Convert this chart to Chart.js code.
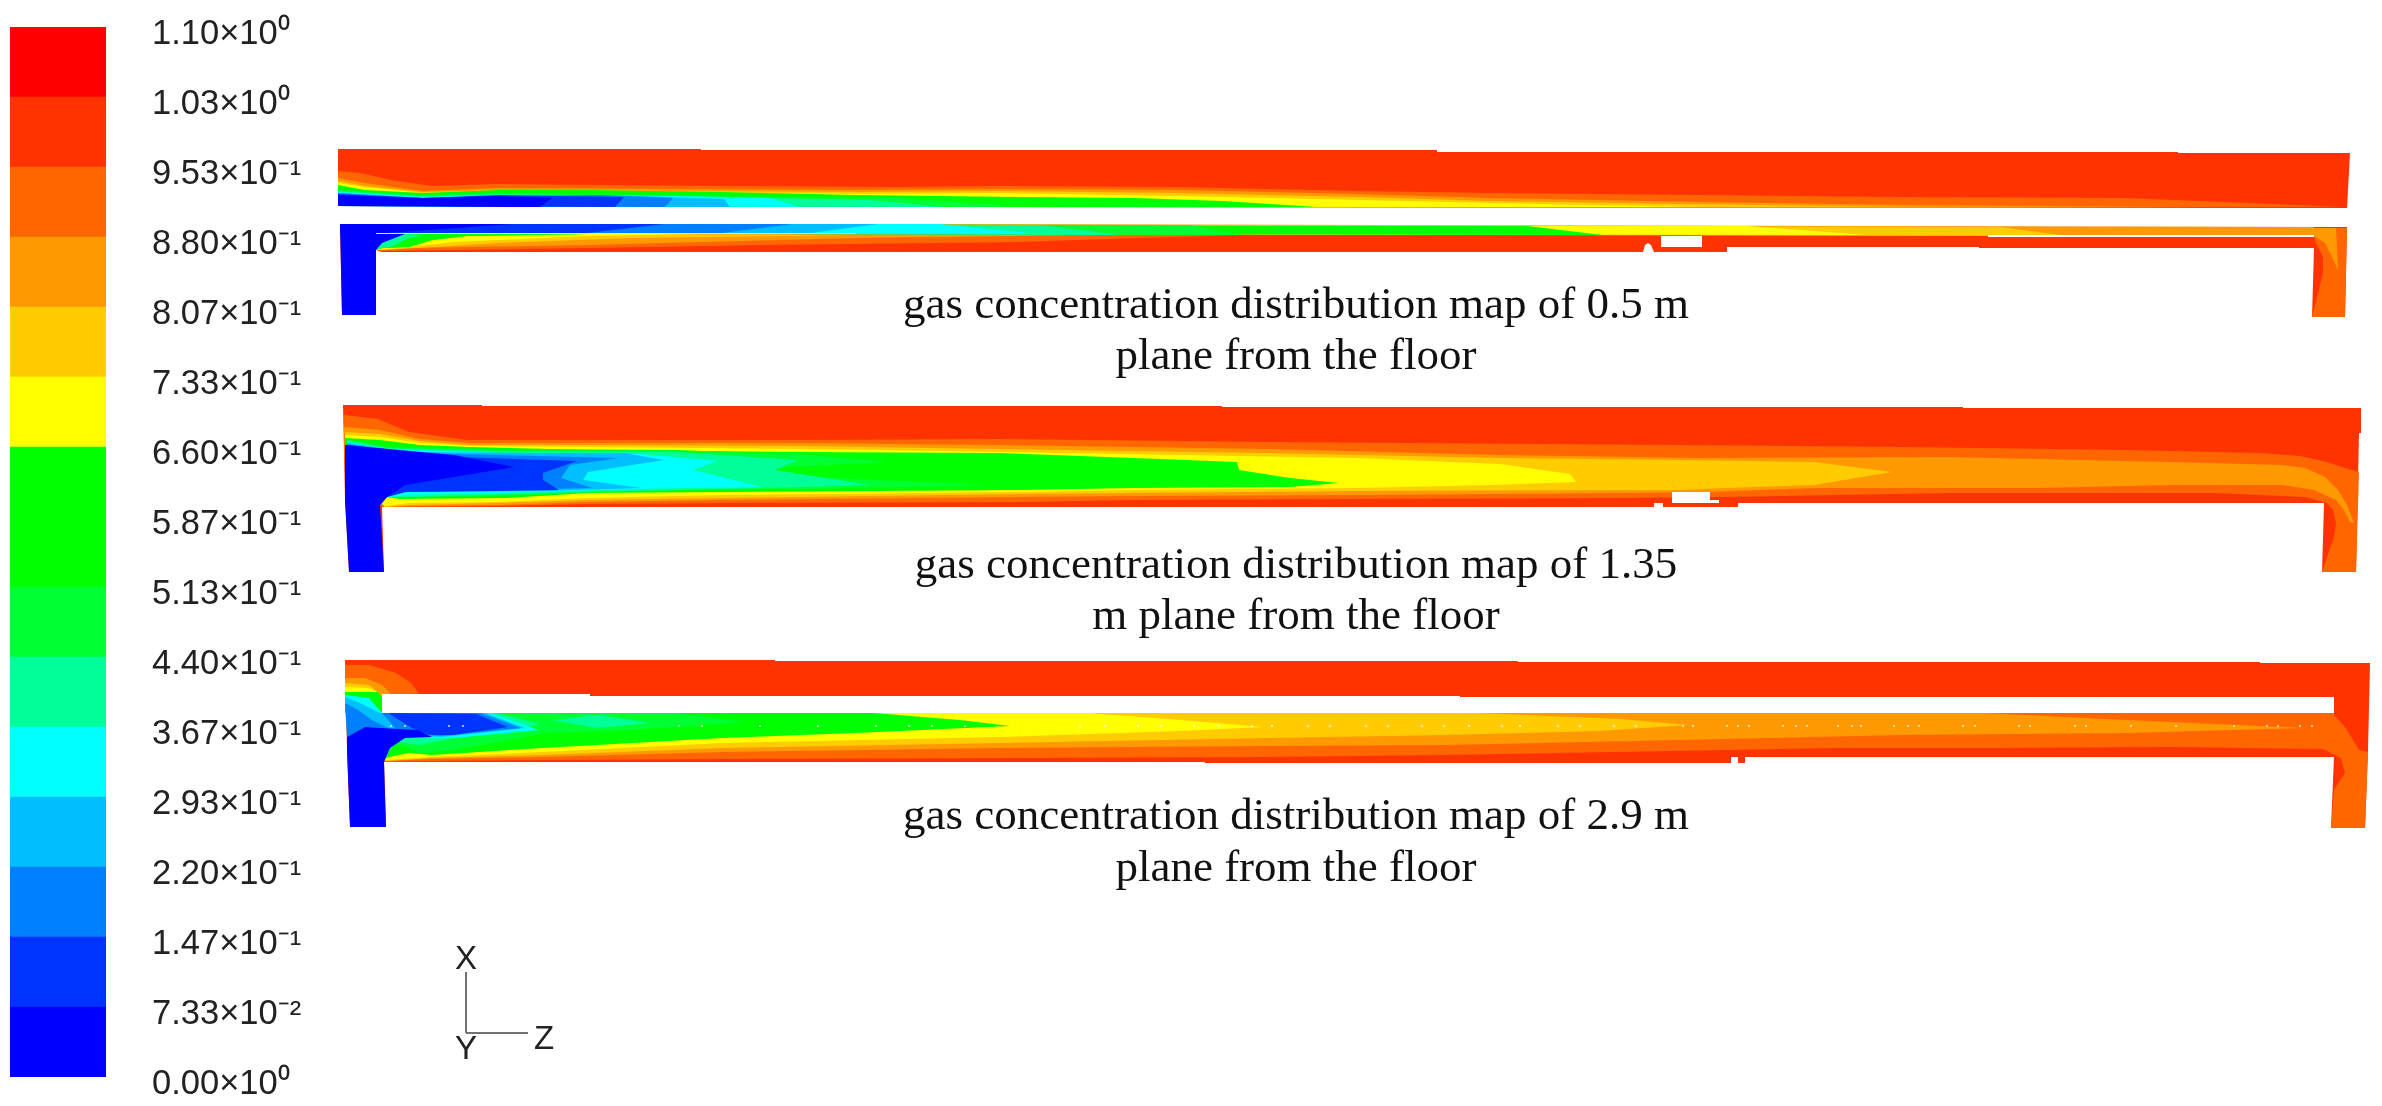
<!DOCTYPE html>
<html><head><meta charset="utf-8">
<style>
html,body{margin:0;padding:0;background:#fff;width:2382px;height:1106px;overflow:hidden}
canvas{position:absolute;left:0;top:0;filter:blur(0.55px)}
</style>
<script src="https://cdn.jsdelivr.net/npm/chart.js@4/dist/chart.umd.min.js"></script>
</head><body>
<canvas id="map" width="2382" height="1106"></canvas>
<canvas id="bar" width="340" height="1106"></canvas>
<script>
// ---------- legend ----------
const levelValues = [0,0.07333,0.14667,0.22,0.29333,0.36667,0.44,0.51333,0.58667,0.66,0.73333,0.80667,0.88,0.95333,1.02667,1.10];
const levelLabels = ['0.00×10⁰','7.33×10⁻²','1.47×10⁻¹','2.20×10⁻¹','2.93×10⁻¹','3.67×10⁻¹','4.40×10⁻¹','5.13×10⁻¹','5.87×10⁻¹','6.60×10⁻¹','7.33×10⁻¹','8.07×10⁻¹','8.80×10⁻¹','9.53×10⁻¹','1.03×10⁰','1.10×10⁰'];
const bandColors = ['#0000ff','#0033ff','#0080ff','#00bfff','#00ffff','#00ff99','#00ff33','#00ff00','#00ff00','#ffff00','#ffcc00','#ff9900','#ff6600','#ff3300','#ff0000'];
const [BLUE,B2,B3,B4,CYAN,SPR,G1,GREEN,,YEL,GOLD,AMB,ORG,RED] = bandColors;
const WHITE = '#ffffff';

// ---------- plane 0.5 m, upper strip ----------
const a1Outline=[[338,149],[701,149],[701,150],[1437,150],[1437,152],[2178,152],[2178,153],[2350,153],[2347,208],[1903,208],[1903,207],[945,207],[945,206],[338,206]];
const a1Orange=[[338,171],[360,173],[391,180],[432,186],[499,184],[588,185],[722,186],[900,187],[1000,186],[1178,187],[1357,191],[1491,193],[1700,195],[1903,197],[2126,198],[2345,207],[1903,208],[945,207],[338,206]];
const a1Amber=[[338,178],[365,183],[423,191],[499,188],[677,189],[856,190],[1000,189],[1178,190],[1357,194],[1491,198],[1700,202],[1903,205],[2200,207],[1903,208],[945,207],[338,206]];
const a1Gold=[[338,181],[365,186],[423,192],[499,190],[677,191],[856,192],[1000,191],[1178,193],[1357,197],[1491,201],[1680,204],[1903,207],[945,207],[338,206]];
const a1Yellow=[[338,183],[365,187],[423,193],[499,191],[677,192],[856,194],[1000,193],[1178,196],[1317,199],[1491,203],[1700,207],[945,207],[338,206]];
const a1Green=[[338,185],[365,190],[423,193],[499,190],[588,190],[722,192],[856,195],[1020,197],[1134,198],[1223,201],[1317,207],[945,207],[338,206]];
const a1G1=[[338,190],[423,195],[499,193],[722,196],[900,198],[1000,205],[1005,207],[338,206]];
const a1Spring=[[338,191],[423,196],[499,194],[722,197],[870,200],[945,207],[338,206]];
const a1Cyan=[[338,192],[423,197],[499,195],[677,196],[770,198],[800,207],[338,206]];
const a1B4=[[338,193],[423,198],[499,196],[640,196],[724,199],[730,207],[338,206]];
const a1B3=[[338,193],[423,198],[499,196],[600,195],[673,198],[665,207],[338,206]];
const a1B2=[[338,194],[423,198],[499,195],[624,197],[615,207],[338,206]];
const a1Blue=[[338,195],[423,198],[499,196],[552,198],[540,207],[338,206]];

// ---------- plane 0.5 m, lower strip ----------
const a2Outline=[[340,224],[940,224],[940,225],[1000,226],[2347,227],[2345,317],[2312,317],[2314,248],[1979,248],[1979,247],[1727,247],[1727,252],[1654,252],[1651,245],[1648,243],[1645,245],[1643,252],[382,252],[376,250],[376,315],[342,315]];
const a2TopAmber=[[340,224],[940,224],[2314,227],[2314,236],[340,233]];
const a2TopGold=[[340,224],[2001,227],[2068,236],[340,233]];
const a2TopYellow=[[340,224],[1747,226],[1867,235],[340,233]];
const a2TopGreen=[[340,224],[1527,226],[1603,235],[340,233]];
const a2TopG1=[[340,224],[1192,225],[1241,235],[340,233]];
const a2TopSpring=[[340,224],[1040,225],[1120,235],[340,233]];
const a2TopCyan=[[340,224],[940,224],[1040,234],[340,233]];
const a2TopB4=[[340,224],[878,224],[811,233],[340,233]];
const a2TopB3=[[340,224],[793,224],[722,233],[340,233]];
const a2TopB2=[[340,224],[664,224],[588,233],[340,233]];
const a2Orange=[[376,233],[1245,235],[1134,238],[1020,242],[766,245],[588,248],[382,251],[376,250]];
const a2Amber=[[376,233],[1090,235],[1020,236],[856,238],[588,245],[409,248],[385,250],[376,250]];
const a2Gold=[[376,233],[856,235],[632,238],[499,243],[400,249],[376,250]];
const a2Yellow=[[376,233],[700,234],[588,236],[454,242],[400,248],[376,250]];
const a2Green=[[376,233],[588,234],[467,236],[432,240],[409,247],[382,248],[376,250]];
const a2Spring=[[376,233],[427,235],[409,238],[391,247],[374,249]];
const a2Blue=[[340,224],[512,224],[387,233],[405,234],[382,243],[376,250],[376,315],[342,315]];
const a2LegOrange=[[2314,228],[2347,228],[2345,317],[2312,317],[2323,273],[2323,257],[2316,243],[2314,237]];
const a2LegAmber=[[2314,228],[2336,228],[2338,270],[2331,255],[2325,243],[2314,236]];
const a2Seam=[[376,233],[856,233],[856,234],[376,234]];
const a2GapLine=[[1988,235],[2314,235],[2314,237],[1988,237]];
const a2Hole=[[1661,236],[1702,236],[1702,247],[1661,247]];

// ---------- plane 1.35 m ----------
const bOutline=[[343,405],[482,405],[482,406],[1222,406],[1222,407],[1963,407],[1963,408],[2361,408],[2361,433],[2359,433],[2356,572],[2322,572],[2324,503],[1738,503],[1738,507],[1663,507],[1663,503],[1654,503],[1654,507],[382,507],[384,572],[349,572],[345,500]];
const bOrange=[[344,415],[378,419],[409,432],[467,440],[800,440],[1000,439],[1268,442],[1680,445],[1903,447],[2126,450],[2260,453],[2300,456],[2327,462],[2345,468],[2359,472],[2356,572],[2322,572],[2334,537],[2336,523],[2333,510],[2327,503],[2305,497],[2216,493],[1948,493],[1725,497],[1625,498],[1357,499],[1134,500],[1020,502],[722,503],[588,504],[499,506],[409,507],[382,507],[345,470]];
const bAmber=[[344,427],[380,430],[420,439],[470,443],[800,443],[1000,445],[1268,449],[1500,455],[1700,458],[1948,457],[2171,462],[2283,465],[2305,468],[2325,477],[2338,490],[2347,505],[2354,523],[2350,522],[2344,510],[2336,500],[2314,490],[2283,485],[2171,485],[2037,488],[1814,488],[1707,492],[1625,493],[1357,495],[1134,496],[1020,497],[722,500],[588,502],[499,505],[409,506],[385,507],[345,470]];
const bGold=[[345,432],[380,434],[420,441],[470,445],[588,445],[800,446],[1000,449],[1268,453],[1500,458],[1680,460],[1814,462],[1892,472],[1814,485],[1725,488],[1680,490],[1625,490],[1357,491],[1134,493],[1020,494],[722,498],[588,500],[499,503],[409,505],[385,507],[345,470]];
const bYellow=[[345,435],[380,437],[420,443],[470,446],[588,447],[800,449],[1000,452],[1357,458],[1500,464],[1570,474],[1576,482],[1491,485],[1357,488],[1134,490],[1020,492],[722,495],[588,498],[499,502],[409,503],[385,506],[345,470]];
const bGreen=[[345,438],[380,440],[420,445],[470,447],[588,450],[800,452],[1000,453],[1134,458],[1237,462],[1239,470],[1290,478],[1339,483],[1290,487],[1134,488],[1020,490],[722,492],[588,493],[507,498],[400,499],[387,497],[380,505],[345,470]];
const bG1=[[347,439],[387,447],[499,449],[677,450],[811,455],[887,462],[784,467],[775,470],[807,477],[990,485],[811,489],[632,491],[521,495],[409,498],[385,497],[380,505],[350,510]];
const bSpring=[[347,440],[387,448],[499,451],[677,452],[798,460],[775,470],[871,485],[766,488],[632,491],[521,494],[409,497],[387,497],[380,505],[350,510]];
const bCyan=[[347,442],[387,449],[499,453],[641,454],[717,461],[693,470],[762,487],[632,489],[499,493],[409,495],[387,497],[380,505],[350,510]];
const bB4=[[347,443],[409,452],[543,453],[624,453],[664,460],[588,472],[583,480],[641,488],[543,491],[409,492],[387,496],[380,505],[350,510]];
const bB3=[[347,444],[409,453],[499,455],[619,458],[570,465],[561,478],[592,488],[499,490],[405,492],[387,497],[380,505],[350,510]];
const bB2=[[347,445],[454,457],[577,461],[543,473],[543,480],[559,490],[499,491],[405,492],[387,497],[380,505],[350,510]];
const bBlue=[[345,445],[454,455],[514,467],[454,477],[405,485],[387,497],[380,505],[384,572],[349,572],[345,500]];
const bHole=[[1672,492],[1710,492],[1710,500],[1719,500],[1719,503],[1672,503]];

// ---------- plane 2.9 m ----------
const cOutline=[[345,660],[775,660],[775,661],[1518,661],[1518,662],[2260,662],[2260,663],[2370,663],[2368,750],[2365,828],[2331,828],[2334,757],[1745,757],[1745,763],[1738,763],[1738,757],[1731,757],[1731,763],[1205,763],[1205,762],[384,762],[386,827],[350,827],[347,750]];
const cCapOrange=[[345,665],[369,665],[396,673],[411,683],[419,694],[419,700],[345,700]];
const cCapAmber=[[345,678],[365,678],[382,685],[391,694],[391,700],[345,700]];
const cCapGold=[[345,683],[369,685],[380,694],[382,700],[345,700]];
const cCapYellow=[[345,687],[369,688],[379,693],[382,700],[345,700]];
const cCapGreen=[[345,692],[378,692],[382,697],[382,713],[345,713]];
const cOrange=[[382,713],[2334,713],[2334,715],[2345,727],[2359,750],[2368,752],[2365,828],[2331,828],[2334,790],[2345,773],[2341,758],[2323,749],[2171,747],[1993,748],[1836,748],[1725,750],[1446,755],[1268,757],[1020,758],[722,759],[543,760],[432,761],[384,762]];
const cAmber=[[382,713],[1984,713],[2126,720],[2238,725],[2305,728],[2126,733],[1903,735],[1769,738],[1680,740],[1446,745],[1268,746],[1000,748],[722,752],[543,757],[432,759],[385,761]];
const cGold=[[382,713],[1478,713],[1620,719],[1688,725],[1600,731],[1446,735],[1268,738],[1000,743],[722,748],[543,755],[432,758],[385,761]];
const cYellow=[[382,713],[1089,713],[1180,720],[1263,727],[1180,731],[1000,737],[722,743],[543,752],[432,757],[385,760]];
const cGreen=[[382,713],[874,713],[960,720],[1010,726],[856,733],[722,738],[543,748],[432,755],[409,753],[385,758],[382,760]];
const cG1=[[382,713],[677,713],[744,722],[632,730],[543,733],[521,738],[454,750],[420,753],[407,747],[394,745],[385,760],[350,760]];
const cPatch=[[552,720],[597,715],[650,723],[597,728]];
const cSpring=[[382,713],[497,713],[540,724],[509,731],[454,738],[420,745],[407,743],[394,741],[385,758],[350,760]];
const cCyan=[[345,695],[369,698],[382,713],[490,713],[539,730],[454,738],[420,738],[405,737],[392,745],[384,760],[350,760]];
const cB4=[[345,697],[360,703],[380,713],[485,713],[525,728],[441,737],[405,735],[390,745],[384,758],[350,760]];
const cB3=[[382,713],[480,713],[521,728],[441,736],[405,733],[395,728]];
const cLeftB3=[[345,703],[358,710],[372,720],[388,728],[365,727],[347,737]];
const cB2=[[388,713],[476,714],[508,727],[454,735],[430,735],[412,728]];
const cBlue=[[347,737],[365,727],[418,730],[432,737],[405,738],[390,748],[384,762],[386,827],[350,827],[347,750]];
const cGap=[[382,694],[590,694],[590,696],[1460,696],[1460,697],[2334,697],[2334,713],[382,713]];
const cDotsX=[391,405,449,463,679,702,760,818,876,909,932,965,1080,1105,1138,1161,1194,1219,1252,1272,1308,1330,1366,1388,1422,1444,1469,1502,1520,1558,1580,1614,1636,1683,1693,1727,1738,1749,1783,1796,1807,1838,1852,1861,1894,1908,1919,1963,1975,2019,2030,2075,2086,2131,2176,2234,2267,2278,2300,2312];
const cDotsY=726;

// ---------- coordinate triad and captions ----------
const triadX=[[466,1033],[466,972]];
const triadZ=[[466,1033],[528,1033]];
const triadText=[['X',466,960],['Y',466,1050],['Z',544,1040]];
const captions=[
 ['gas concentration distribution map of 0.5 m',1296,318],
 ['plane from the floor',1296,369],
 ['gas concentration distribution map of 1.35',1296,578],
 ['m plane from the floor',1296,629],
 ['gas concentration distribution map of 2.9 m',1296,829],
 ['plane from the floor',1296,881]
];

// paint order, first = bottom
const layers=[
 [a1Outline,RED],[a1Orange,ORG],[a1Amber,AMB],[a1Gold,GOLD],[a1Yellow,YEL],[a1Green,GREEN],[a1G1,G1],[a1Spring,SPR],[a1Cyan,CYAN],[a1B4,B4],[a1B3,B3],[a1B2,B2],[a1Blue,BLUE],
 [a2Outline,RED],[a2Orange,ORG],[a2Amber,AMB],[a2Gold,GOLD],[a2Yellow,YEL],[a2Green,GREEN],[a2Spring,SPR],
 [a2TopAmber,AMB],[a2TopGold,GOLD],[a2TopYellow,YEL],[a2TopGreen,GREEN],[a2TopG1,G1],[a2TopSpring,SPR],[a2TopCyan,CYAN],[a2TopB4,B4],[a2TopB3,B3],[a2TopB2,B2],
 [a2Green,GREEN],[a2Spring,SPR],[a2Blue,BLUE],[a2LegOrange,ORG],[a2LegAmber,AMB],[a2Seam,'#ffd9b3'],[a2GapLine,WHITE],[a2Hole,WHITE],
 [bOutline,RED],[bOrange,ORG],[bAmber,AMB],[bGold,GOLD],[bYellow,YEL],[bGreen,GREEN],[bG1,G1],[bSpring,SPR],[bCyan,CYAN],[bB4,B4],[bB3,B3],[bB2,B2],[bBlue,BLUE],[bHole,WHITE],
 [cOutline,RED],[cCapOrange,ORG],[cCapAmber,AMB],[cCapGold,GOLD],[cCapYellow,YEL],[cCapGreen,GREEN],
 [cOrange,ORG],[cAmber,AMB],[cGold,GOLD],[cYellow,YEL],[cGreen,GREEN],[cG1,G1],[cPatch,SPR],[cSpring,SPR],[cCyan,CYAN],[cB4,B4],[cB3,B3],[cLeftB3,B3],[cB2,B2],[cBlue,BLUE],[cGap,WHITE]
];

const polygons=layers.map(([pts,color])=>({type:'scatter',data:pts,showLine:true,fill:'shape',backgroundColor:color,borderWidth:0,pointRadius:0,pointHoverRadius:0,tension:0}));
const extras=[
 {type:'scatter',data:cDotsX.map(x=>[x,cDotsY]),showLine:false,pointRadius:1,pointHoverRadius:1,pointBorderWidth:0,pointBackgroundColor:'rgba(255,255,255,0.85)'},
 {type:'scatter',data:triadX,showLine:true,fill:false,borderColor:'#707070',borderWidth:2,pointRadius:0,pointHoverRadius:0},
 {type:'scatter',data:triadZ,showLine:true,fill:false,borderColor:'#707070',borderWidth:2,pointRadius:0,pointHoverRadius:0}
];
// Chart.js paints the first dataset last, so the list is reversed
const mapDatasets=[...polygons,...extras].reverse();

const textPlugin={id:'texts',afterDraw(chart){
  const {ctx,scales:{x,y}}=chart;
  ctx.save();
  ctx.textAlign='center';ctx.textBaseline='alphabetic';ctx.fillStyle='#111';
  ctx.font='45px "Liberation Serif"';
  captions.forEach(([t,cx,cy])=>ctx.fillText(t,x.getPixelForValue(cx),y.getPixelForValue(cy)));
  ctx.font='33px "Liberation Sans"';ctx.fillStyle='#222';ctx.textBaseline='middle';
  triadText.forEach(([t,cx,cy])=>ctx.fillText(t,x.getPixelForValue(cx),y.getPixelForValue(cy)));
  ctx.restore();
}};

Chart.defaults.animation=false;
new Chart(document.getElementById('map'),{
  type:'scatter',
  data:{datasets:mapDatasets},
  plugins:[textPlugin],
  options:{responsive:false,animation:false,
    layout:{padding:0,autoPadding:false},
    plugins:{legend:{display:false},tooltip:{enabled:false},filler:{drawTime:'beforeDatasetDraw'}},
    events:[],
    scales:{
      x:{type:'linear',min:0,max:2382,display:false},
      y:{type:'linear',min:0,max:1106,reverse:true,display:false}
    }
  }
});

new Chart(document.getElementById('bar'),{
  type:'bar',
  data:{labels:['gas concentration'],
    datasets:bandColors.map((c,i)=>({data:[[levelValues[i],levelValues[i+1]]],backgroundColor:c,borderWidth:0,grouped:false,barPercentage:1,categoryPercentage:1}))},
  options:{responsive:false,animation:false,events:[],
    layout:{padding:{left:10,top:27,bottom:29,right:0},autoPadding:false},
    plugins:{legend:{display:false},tooltip:{enabled:false}},
    scales:{
      x:{display:false},
      y:{position:'right',min:0,max:1.10,
        grid:{display:false,drawTicks:false},border:{display:false},
        afterBuildTicks(s){s.ticks=levelValues.map(v=>({value:v}));},
        afterFit(s){s.width=234;s.paddingTop=0;s.paddingBottom=0;},
        ticks:{autoSkip:false,padding:46,labelOffset:7,color:'#222',font:{family:'"Liberation Sans"',size:34.5},
          callback:(v,i)=>levelLabels[i]}
      }
    }
  }
});
</script>
</body></html>
